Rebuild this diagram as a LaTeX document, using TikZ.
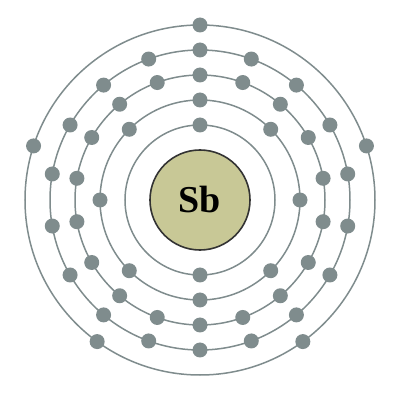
\documentclass[tikz,border=0pt]{standalone}
\usepackage{fontspec}
\setmainfont{Liberation Serif}
\usetikzlibrary{calc}
\definecolor{shellc}{HTML}{7F8C8D}
\definecolor{nucfill}{HTML}{C8C896}
\definecolor{nucline}{HTML}{333333}
\begin{document}
\begin{tikzpicture}[x=1pt,y=1pt,
  shell/.style={draw=shellc,line width=1.5pt},
  electron/.style={circle,fill=shellc,inner sep=0pt,minimum size=15pt},
  nucleus/.style={circle,draw=nucline,fill=nucfill,line width=1.6pt,minimum size=100pt,inner sep=0pt,font=\bfseries\fontsize{38}{42}\selectfont}]
\useasboundingbox (0,0) rectangle (400,400);
\coordinate (c) at (200,200);
\foreach \r in {75,100,125,150,175} \draw[shell] (c) circle[radius=\r];
\node[nucleus] (nuc) at (c) {Sb};
% shell 1
\foreach \i in {0,1} \node[electron] (a\i) at ($(c)+(90+180*\i:75)$) {};
% shell 2
\foreach \i in {0,...,7} \node[electron] (b\i) at ($(c)+(90+45*\i:100)$) {};
% shell 3
\foreach \i in {0,...,17} \node[electron] (d\i) at ($(c)+(90+20*\i:125)$) {};
% shell 4
\foreach \i in {0,...,17} \node[electron] (e\i) at ($(c)+(90+20*\i:150)$) {};
% shell 5
\foreach \i in {0,...,4} \node[electron] (f\i) at ($(c)+(90+72*\i:175)$) {};
\end{tikzpicture}
\end{document}
